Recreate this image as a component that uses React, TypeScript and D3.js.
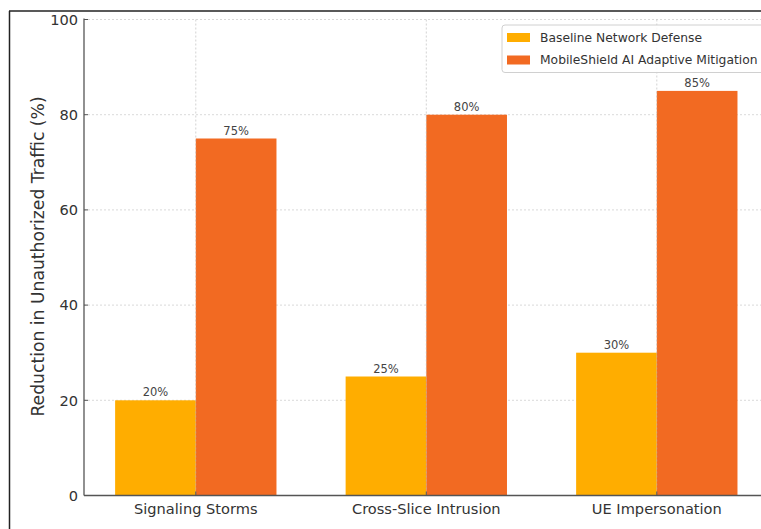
import React from "react";
import * as d3 from "d3";

const categories = ["Signaling Storms", "Cross-Slice Intrusion", "UE Impersonation"];
const baselineValues = [20, 25, 30];
const mitigationValues = [75, 80, 85];
const seriesNames = ["Baseline Network Defense", "MobileShield AI Adaptive Mitigation"];
const seriesColors = ["#FFAD00", "#F26A22"];
const yTicks = [0, 20, 40, 60, 80, 100];

const W = 761;
const H = 529;
const FONT = "'DejaVu Sans', sans-serif";
const BAR_W = 0.35;

export default function App() {
  const x = d3.scaleLinear().domain([-0.485, 2.485]).range([84, 768.6]);
  const y = d3.scaleLinear().domain([0, 100]).range([495.5, 19.5]);
  const series = [baselineValues, mitigationValues];

  return (
    <svg
      width={W}
      height={H}
      style={{ position: "fixed", left: 0, top: 0, background: "#fff" }}
      fontFamily={FONT}
    >
      <rect x={0} y={0} width={W} height={H} fill="#fff" />

      {/* horizontal grid, under bars */}
      {yTicks.slice(1).map((t) => (
        <line
          key={"hg" + t}
          x1={84}
          x2={W}
          y1={y(t)}
          y2={y(t)}
          stroke="#cfcfcf"
          strokeWidth={0.8}
          strokeDasharray="2,2"
        />
      ))}

      {/* bars */}
      {series.map((vals, s) =>
        vals.map((v, i) => {
          const x0 = s === 0 ? x(i - BAR_W) : x(i);
          const x1 = s === 0 ? x(i) : x(i + BAR_W);
          return (
            <rect
              key={`b${s}-${i}`}
              x={x0}
              y={y(v)}
              width={x1 - x0}
              height={y(0) - y(v)}
              fill={seriesColors[s]}
            />
          );
        })
      )}

      {/* vertical grid at category positions */}
      {categories.map((c, i) => (
        <line
          key={"vg" + c}
          x1={x(i)}
          x2={x(i)}
          y1={y(100)}
          y2={y(0)}
          stroke="#b0b0b0"
          strokeOpacity={0.7}
          strokeWidth={0.8}
          strokeDasharray="2,2"
        />
      ))}

      {/* value labels */}
      {series.map((vals, s) =>
        vals.map((v, i) => (
          <text
            key={`l${s}-${i}`}
            x={x(i + (s === 0 ? -BAR_W / 2 : BAR_W / 2))}
            y={y(v) - 4}
            textAnchor="middle"
            fontSize={11.5}
            fill="#444"
          >
            {v}%
          </text>
        ))
      )}

      {/* spines */}
      <line x1={84} x2={84} y1={y(100) - 1} y2={y(0)} stroke="#555" strokeWidth={1.3} />
      <line x1={84} x2={W} y1={y(0)} y2={y(0)} stroke="#555" strokeWidth={1.3} />

      {/* y ticks */}
      {yTicks.map((t) => (
        <g key={"yt" + t}>
          <line x1={84} x2={88} y1={y(t)} y2={y(t)} stroke="#555" strokeWidth={1} />
          <text
            x={78}
            y={y(t)}
            dy="0.36em"
            textAnchor="end"
            fontSize={14.6}
            fill="#333"
          >
            {t}
          </text>
        </g>
      ))}

      {/* x ticks */}
      {categories.map((c, i) => (
        <g key={"xt" + c}>
          <line x1={x(i)} x2={x(i)} y1={y(0)} y2={y(0) - 4} stroke="#555" strokeWidth={1} />
          <text x={x(i)} y={513.5} textAnchor="middle" fontSize={14.6} fill="#333">
            {c}
          </text>
        </g>
      ))}

      {/* y axis title */}
      <text
        transform={`translate(44, ${(y(0) + y(100)) / 2 - 1}) rotate(-90)`}
        textAnchor="middle"
        fontSize={17.2}
        fill="#333"
      >
        Reduction in Unauthorized Traffic (%)
      </text>

      {/* legend */}
      <g>
        <rect
          x={502}
          y={25}
          width={270}
          height={47.5}
          rx={3}
          fill="#fff"
          fillOpacity={0.85}
          stroke="#d0d0d0"
          strokeWidth={1}
        />
        {seriesNames.map((n, k) => (
          <g key={n}>
            <rect x={507} y={33 + k * 22.5} width={23} height={9} fill={seriesColors[k]} />
            <text x={540} y={37.5 + k * 22.5} dy="0.36em" fontSize={12.3} fill="#333">
              {n}
            </text>
          </g>
        ))}
      </g>

      {/* frame */}
      <line x1={9} x2={W} y1={11} y2={11} stroke="#222" strokeWidth={1.5} />
      <line x1={9.5} x2={9.5} y1={11} y2={H} stroke="#222" strokeWidth={1.5} />
    </svg>
  );
}
